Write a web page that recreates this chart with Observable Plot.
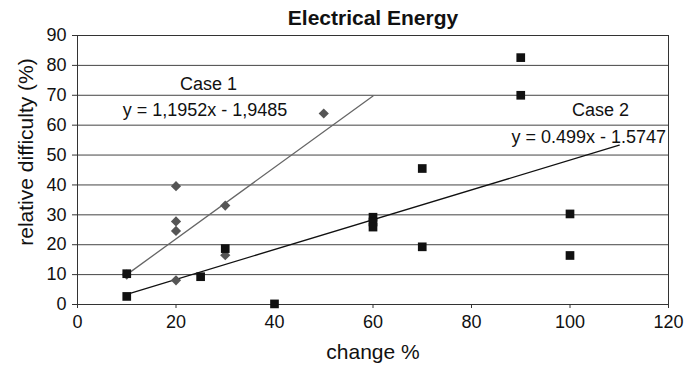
<!DOCTYPE html>
<html>
<head>
<meta charset="utf-8">
<script src="https://cdn.jsdelivr.net/npm/d3@7"></script>
<script src="https://cdn.jsdelivr.net/npm/@observablehq/plot@0.6"></script>
<style>
  html, body { margin: 0; padding: 0; background: #fff; }
</style>
</head>
<body>
<div id="chart"></div>
<script>
// ---- data ----
const chartTitle = "Electrical Energy";
const xLabel = "change %";
const yLabel = "relative difficulty (%)";

const xTicks = [0, 20, 40, 60, 80, 100, 120];
const yTicks = [0, 10, 20, 30, 40, 50, 60, 70, 80, 90];

// Case 1 (grey diamonds)
const case1X = [10, 20, 20, 20, 20, 30, 30, 50];
const case1Y = [10, 39.6, 27.8, 24.6, 8.1, 33.1, 16.5, 63.9];

// Case 2 (black squares)
const case2X = [10, 10, 25, 30, 40, 60, 60, 60, 70, 70, 90, 90, 100, 100];
const case2Y = [10.3, 2.7, 9.3, 18.7, 0.2, 29.2, 27.6, 25.9, 45.5, 19.3, 82.6, 70.0, 30.3, 16.4];

// Trendlines (from the equations shown) and their x-extent
const trendNames = ["Case 1", "Case 2"];
const trendSlopes = [1.1952, 0.499];
const trendIntercepts = [-1.9485, -1.5747];
const trendStartX = [10, 10];
const trendEndX = [60, 110];
const trendEquations = ["y = 1,1952x - 1,9485", "y = 0.499x - 1.5747"];

// Annotation anchors (data coordinates)
const nameLabelX = [26.6, 106.2];
const nameLabelY = [73.6, 64.9];
const eqLabelX = [25.9, 103.8];
const eqLabelY = [64.9, 55.9];

// ---- build tables ----
const case1 = case1X.map((x, i) => ({x, y: case1Y[i]}));
const case2 = case2X.map((x, i) => ({x, y: case2Y[i]}));
const trendPts = (k) => [trendStartX[k], trendEndX[k]].map(x => ({x, y: trendSlopes[k] * x + trendIntercepts[k]}));
const labels = trendNames.flatMap((n, k) => [
  {x: nameLabelX[k], y: nameLabelY[k], text: n},
  {x: eqLabelX[k], y: eqLabelY[k], text: trendEquations[k]}
]);

const font = "'Liberation Sans', Arial, Helvetica, sans-serif";

const chart = Plot.plot({
  width: 689,
  height: 368,
  marginTop: 35,
  marginBottom: 64,
  marginLeft: 77,
  marginRight: 21,
  style: {fontFamily: font, fontSize: "18px", color: "#111", background: "#fff", overflow: "visible"},
  x: {domain: [0, 120]},
  y: {domain: [0, 90]},
  marks: [
    Plot.gridY(yTicks, {stroke: "#444", strokeOpacity: 1, strokeWidth: 1}),
    Plot.frame({stroke: "#333", strokeWidth: 1}),
    Plot.axisX(xTicks, {tickSize: 4, tickPadding: 7, label: null, fontSize: 18, stroke: "#333"}),
    Plot.axisY(yTicks, {tickSize: 5, tickPadding: 6, label: null, fontSize: 18, stroke: "#333"}),
    Plot.line(trendPts(0), {x: "x", y: "y", stroke: "#666", strokeWidth: 1.3}),
    Plot.line(trendPts(1), {x: "x", y: "y", stroke: "#111", strokeWidth: 1.3}),
    Plot.dot(case1, {x: "x", y: "y", symbol: "diamond2", r: 4.6, fill: "#555", stroke: "none"}),
    Plot.dot(case2, {x: "x", y: "y", symbol: "square", r: 4.9, fill: "#111", stroke: "none"}),
    Plot.text(labels, {x: "x", y: "y", text: "text", fontSize: 18, fill: "#111", lineAnchor: "middle", textAnchor: "middle"}),
    Plot.text([chartTitle], {frameAnchor: "top", dy: -17.5, lineAnchor: "middle", textAnchor: "middle", fontSize: 21, fontWeight: "bold", fill: "#111"}),
    Plot.text([xLabel], {frameAnchor: "bottom", dy: 48, lineAnchor: "middle", textAnchor: "middle", fontSize: 21, fill: "#111"}),
    Plot.text([yLabel], {frameAnchor: "left", rotate: -90, dx: -51, dy: -18, lineAnchor: "middle", textAnchor: "middle", fontSize: 21, fill: "#111"})
  ]
});
document.getElementById("chart").appendChild(chart);
</script>
</body>
</html>
